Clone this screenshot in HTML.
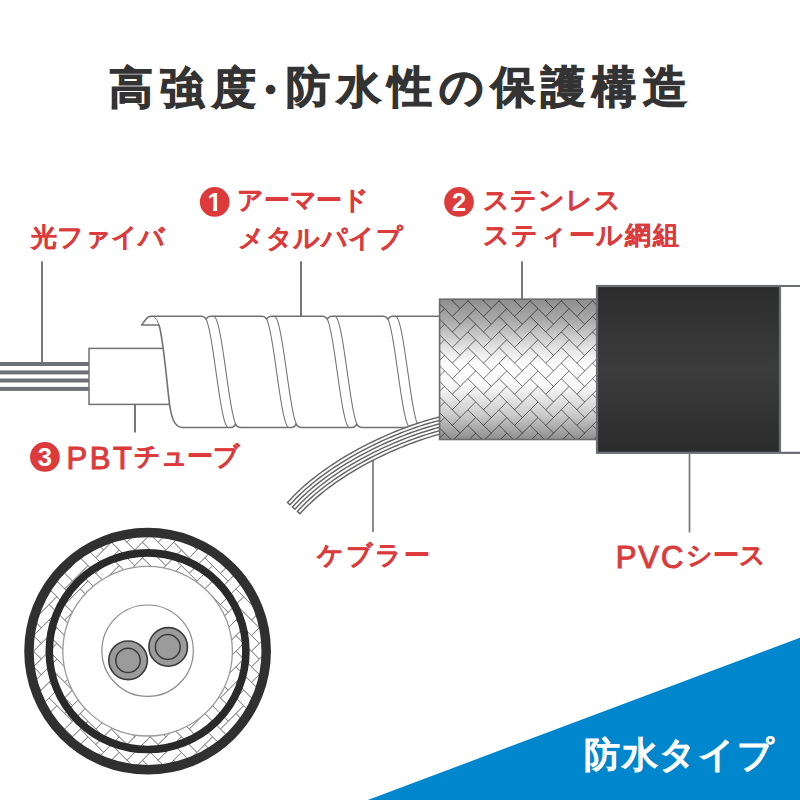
<!DOCTYPE html>
<html lang="ja"><head><meta charset="utf-8"><title>高強度・防水性の保護構造</title>
<style>
html,body{margin:0;padding:0;background:#fff;}
body{width:800px;height:800px;overflow:hidden;position:relative;font-family:"Liberation Sans",sans-serif;}
svg{position:absolute;left:0;top:0;}
.t{position:absolute;white-space:nowrap;font-weight:bold;line-height:1;}
.num{position:absolute;width:29.7px;height:29.7px;color:#fff;font-size:25.5px;font-weight:bold;text-align:center;line-height:30.5px;}
</style></head><body>
<svg width="800" height="800" viewBox="0 0 800 800">
<defs>
 <linearGradient id="braidg" x1="0" y1="0" x2="0" y2="1">
  <stop offset="0" stop-color="#8e8e8e"/><stop offset="0.15" stop-color="#aaaaaa"/><stop offset="0.35" stop-color="#e4e4e4"/><stop offset="0.47" stop-color="#ffffff"/><stop offset="0.62" stop-color="#f8f8f8"/><stop offset="0.82" stop-color="#cccccc"/><stop offset="1" stop-color="#8e8e8e"/>
 </linearGradient>
 <linearGradient id="pvcg" x1="0" y1="0" x2="0" y2="1">
  <stop offset="0" stop-color="#2c2c2c"/><stop offset="0.5" stop-color="#3c3c3c"/><stop offset="1" stop-color="#2c2c2c"/>
 </linearGradient>
 <clipPath id="cbraid"><rect x="439.6" y="299.2" width="158" height="140.3"/></clipPath>
 <clipPath id="cring"><path clip-rule="evenodd" d="M147.6,537.2 a114,114 0 1,0 0.01,0 Z M147.6,566.4 a84.8,84.8 0 1,0 0.01,0 Z"/></clipPath>
</defs>
<g fill="#6d7079">
 <rect x="0" y="362" width="90" height="4"/><rect x="0" y="370.4" width="90" height="4"/>
 <rect x="0" y="378.5" width="90" height="4"/><rect x="0" y="386.9" width="90" height="4"/>
</g>
<path d="M42,261.3V363 M301,261.3V316 M522,261.3V299 M135,404.5V432.5 " stroke="#717171" stroke-width="1.9" fill="none"/>
<path d="M373,461V532 M689.5,453V532.5" stroke="#787878" stroke-width="1.7" fill="none"/>
<rect x="89" y="348.4" width="90" height="56" fill="#fff" stroke="#717171" stroke-width="1.5"/>
<path d="M141.6,325 L159,325 C163.5,340 166.5,380 169.5,404 C171.5,418 174.5,427.5 182.5,427.5 L230.6,427.5 Q234.1,427.5 235.6,424 Q237.1,427.5 241.1,427.5 L291.2,427.5 Q294.7,427.5 296.2,424 Q297.7,427.5 301.7,427.5 L351.8,427.5 Q355.3,427.5 356.8,424 Q358.3,427.5 362.3,427.5 L412.4,427.5 Q415.9,427.5 417.4,424 Q418.9,427.5 422.9,427.5 L442,427.5 L442,316.3 L392.33,316.3 Q389.83,316.3 387.83,318.9 Q385.83,316.3 383.33,316.3 L331.73,316.3 Q329.23,316.3 327.23,318.9 Q325.23,316.3 322.73,316.3 L271.13,316.3 Q268.63,316.3 266.63,318.9 Q264.63,316.3 262.13,316.3 L210.53,316.3 Q208.03,316.3 206.03,318.9 Q204.03,316.3 201.53,316.3 L151,316.3 C148.5,316.3 147.2,317.3 145.6,319.6 L141.6,325.1 Z" fill="#fff" stroke="#717171" stroke-width="1.6" stroke-linejoin="round"/>
<path d="M154,316.8 Q157.6,319.6 159,325" stroke="#717171" stroke-width="0.9" fill="none"/>
<path d="M206.03,318.9 L206.49,319.98 L206.96,321.25 L207.43,322.69 L207.89,324.3 L208.36,326.08 L208.82,328.02 L209.29,330.11 L209.76,332.35 L210.22,334.73 L210.69,337.23 L211.16,339.86 L211.62,342.6 L212.09,345.44 L212.56,348.37 L213.02,351.38 L213.49,354.47 L213.96,357.61 L214.42,360.81 L214.89,364.04 L215.36,367.31 L215.82,370.59 L216.29,373.87 L216.76,377.14 L217.22,380.4 L217.69,383.63 L218.16,386.82 L218.62,389.95 L219.09,393.02 L219.55,396.02 L220.02,398.94 L220.49,401.76 L220.95,404.47 L221.42,407.08 L221.89,409.56 L222.35,411.9 L222.82,414.11 L223.29,416.18 L223.75,418.08 L224.22,419.83 L224.69,421.41 L225.15,422.82 L225.62,424.05 L226.09,425.09 L226.55,425.96 L227.02,426.63 L227.49,427.11 L227.95,427.4 L228.42,427.5M213.6,316.3 L214.06,316.39 L214.52,316.67 L214.98,317.14 L215.43,317.79 L215.89,318.62 L216.35,319.63 L216.81,320.82 L217.27,322.18 L217.73,323.71 L218.18,325.4 L218.64,327.24 L219.1,329.24 L219.56,331.38 L220.02,333.65 L220.48,336.06 L220.93,338.58 L221.39,341.22 L221.85,343.96 L222.31,346.8 L222.77,349.72 L223.23,352.71 L223.68,355.77 L224.14,358.88 L224.6,362.04 L225.06,365.23 L225.52,368.44 L225.98,371.66 L226.43,374.89 L226.89,378.1 L227.35,381.29 L227.81,384.45 L228.27,387.57 L228.73,390.64 L229.18,393.65 L229.64,396.58 L230.1,399.42 L230.56,402.18 L231.02,404.83 L231.48,407.37 L231.93,409.8 L232.39,412.09 L232.85,414.25 L233.31,416.27 L233.77,418.14 L234.23,419.85 L234.68,421.4 L235.14,422.79 L235.6,424M266.63,318.9 L267.09,319.98 L267.56,321.25 L268.03,322.69 L268.49,324.3 L268.96,326.08 L269.42,328.02 L269.89,330.11 L270.36,332.35 L270.82,334.73 L271.29,337.23 L271.76,339.86 L272.22,342.6 L272.69,345.44 L273.16,348.37 L273.62,351.38 L274.09,354.47 L274.56,357.61 L275.02,360.81 L275.49,364.04 L275.96,367.31 L276.42,370.59 L276.89,373.87 L277.36,377.14 L277.82,380.4 L278.29,383.63 L278.76,386.82 L279.22,389.95 L279.69,393.02 L280.15,396.02 L280.62,398.94 L281.09,401.76 L281.55,404.47 L282.02,407.08 L282.49,409.56 L282.95,411.9 L283.42,414.11 L283.89,416.18 L284.35,418.08 L284.82,419.83 L285.29,421.41 L285.75,422.82 L286.22,424.05 L286.69,425.09 L287.15,425.96 L287.62,426.63 L288.09,427.11 L288.55,427.4 L289.02,427.5M274.2,316.3 L274.66,316.39 L275.12,316.67 L275.58,317.14 L276.03,317.79 L276.49,318.62 L276.95,319.63 L277.41,320.82 L277.87,322.18 L278.33,323.71 L278.78,325.4 L279.24,327.24 L279.7,329.24 L280.16,331.38 L280.62,333.65 L281.08,336.06 L281.53,338.58 L281.99,341.22 L282.45,343.96 L282.91,346.8 L283.37,349.72 L283.83,352.71 L284.28,355.77 L284.74,358.88 L285.2,362.04 L285.66,365.23 L286.12,368.44 L286.58,371.66 L287.03,374.89 L287.49,378.1 L287.95,381.29 L288.41,384.45 L288.87,387.57 L289.33,390.64 L289.78,393.65 L290.24,396.58 L290.7,399.42 L291.16,402.18 L291.62,404.83 L292.08,407.37 L292.53,409.8 L292.99,412.09 L293.45,414.25 L293.91,416.27 L294.37,418.14 L294.83,419.85 L295.28,421.4 L295.74,422.79 L296.2,424M327.23,318.9 L327.69,319.98 L328.16,321.25 L328.63,322.69 L329.09,324.3 L329.56,326.08 L330.02,328.02 L330.49,330.11 L330.96,332.35 L331.42,334.73 L331.89,337.23 L332.36,339.86 L332.82,342.6 L333.29,345.44 L333.76,348.37 L334.22,351.38 L334.69,354.47 L335.16,357.61 L335.62,360.81 L336.09,364.04 L336.56,367.31 L337.02,370.59 L337.49,373.87 L337.96,377.14 L338.42,380.4 L338.89,383.63 L339.36,386.82 L339.82,389.95 L340.29,393.02 L340.75,396.02 L341.22,398.94 L341.69,401.76 L342.15,404.47 L342.62,407.08 L343.09,409.56 L343.55,411.9 L344.02,414.11 L344.49,416.18 L344.95,418.08 L345.42,419.83 L345.89,421.41 L346.35,422.82 L346.82,424.05 L347.29,425.09 L347.75,425.96 L348.22,426.63 L348.69,427.11 L349.15,427.4 L349.62,427.5M334.8,316.3 L335.26,316.39 L335.72,316.67 L336.18,317.14 L336.63,317.79 L337.09,318.62 L337.55,319.63 L338.01,320.82 L338.47,322.18 L338.93,323.71 L339.38,325.4 L339.84,327.24 L340.3,329.24 L340.76,331.38 L341.22,333.65 L341.68,336.06 L342.13,338.58 L342.59,341.22 L343.05,343.96 L343.51,346.8 L343.97,349.72 L344.43,352.71 L344.88,355.77 L345.34,358.88 L345.8,362.04 L346.26,365.23 L346.72,368.44 L347.18,371.66 L347.63,374.89 L348.09,378.1 L348.55,381.29 L349.01,384.45 L349.47,387.57 L349.93,390.64 L350.38,393.65 L350.84,396.58 L351.3,399.42 L351.76,402.18 L352.22,404.83 L352.68,407.37 L353.13,409.8 L353.59,412.09 L354.05,414.25 L354.51,416.27 L354.97,418.14 L355.43,419.85 L355.88,421.4 L356.34,422.79 L356.8,424M387.83,318.9 L388.29,319.98 L388.76,321.25 L389.23,322.69 L389.69,324.3 L390.16,326.08 L390.62,328.02 L391.09,330.11 L391.56,332.35 L392.02,334.73 L392.49,337.23 L392.96,339.86 L393.42,342.6 L393.89,345.44 L394.36,348.37 L394.82,351.38 L395.29,354.47 L395.76,357.61 L396.22,360.81 L396.69,364.04 L397.16,367.31 L397.62,370.59 L398.09,373.87 L398.56,377.14 L399.02,380.4 L399.49,383.63 L399.96,386.82 L400.42,389.95 L400.89,393.02 L401.35,396.02 L401.82,398.94 L402.29,401.76 L402.75,404.47 L403.22,407.08 L403.69,409.56 L404.15,411.9 L404.62,414.11 L405.09,416.18 L405.55,418.08 L406.02,419.83 L406.49,421.41 L406.95,422.82 L407.42,424.05 L407.89,425.09 L408.35,425.96 L408.82,426.63 L409.29,427.11 L409.75,427.4 L410.22,427.5M395.4,316.3 L395.86,316.39 L396.32,316.67 L396.78,317.14 L397.23,317.79 L397.69,318.62 L398.15,319.63 L398.61,320.82 L399.07,322.18 L399.53,323.71 L399.98,325.4 L400.44,327.24 L400.9,329.24 L401.36,331.38 L401.82,333.65 L402.28,336.06 L402.73,338.58 L403.19,341.22 L403.65,343.96 L404.11,346.8 L404.57,349.72 L405.03,352.71 L405.48,355.77 L405.94,358.88 L406.4,362.04 L406.86,365.23 L407.32,368.44 L407.78,371.66 L408.23,374.89 L408.69,378.1 L409.15,381.29 L409.61,384.45 L410.07,387.57 L410.53,390.64 L410.98,393.65 L411.44,396.58 L411.9,399.42 L412.36,402.18 L412.82,404.83 L413.28,407.37 L413.73,409.8 L414.19,412.09 L414.65,414.25 L415.11,416.27 L415.57,418.14 L416.03,419.85 L416.48,421.4 L416.94,422.79 L417.4,424" stroke="#727272" stroke-width="1.05" fill="none"/>
<path d="M445.87,414.91 L443.79,415.36 L441.65,415.84 L439.46,416.36 L437.22,416.92 L434.93,417.51 L432.59,418.14 L430.2,418.81 L427.77,419.51 L425.3,420.25 L422.79,421.02 L420.25,421.84 L417.66,422.68 L415.04,423.56 L412.39,424.48 L409.71,425.44 L407,426.42 L404.26,427.45 L401.5,428.5 L398.71,429.6 L395.9,430.72 L393.08,431.88 L390.23,433.08 L387.37,434.31 L384.49,435.57 L381.6,436.86 L378.71,438.19 L375.8,439.55 L372.88,440.95 L369.96,442.38 L367.04,443.84 L364.12,445.33 L361.19,446.86 L358.27,448.42 L355.36,450.01 L352.45,451.63 L349.54,453.28 L346.65,454.97 L343.77,456.69 L340.9,458.44 L338.05,460.21 L335.21,462.03 L332.4,463.87 L329.6,465.74 L326.83,467.64 L324.08,469.57 L321.36,471.54 L318.67,473.53 L316,475.55 L313.37,477.61 L310.77,479.69 L308.21,481.8 L305.68,483.94 L303.2,486.11 L300.75,488.31 L298.35,490.54 L296,492.79 L293.68,495.08 L291.42,497.39 L289.21,499.73 L287.06,502.1 L300.32,514.19 L302.37,511.94 L304.37,509.83 L306.41,507.73 L308.51,505.66 L310.66,503.6 L312.86,501.56 L315.1,499.54 L317.39,497.55 L319.72,495.57 L322.09,493.62 L324.5,491.69 L326.95,489.78 L329.43,487.89 L331.95,486.03 L334.49,484.2 L337.07,482.38 L339.67,480.6 L342.3,478.84 L344.96,477.1 L347.63,475.39 L350.33,473.71 L353.04,472.06 L355.77,470.43 L358.51,468.84 L361.26,467.27 L364.02,465.73 L366.8,464.22 L369.57,462.73 L372.35,461.28 L375.14,459.86 L377.92,458.47 L380.7,457.11 L383.48,455.78 L386.25,454.48 L389.02,453.21 L391.77,451.97 L394.52,450.77 L397.24,449.6 L399.96,448.46 L402.65,447.35 L405.33,446.28 L407.98,445.24 L410.61,444.24 L413.21,443.26 L415.79,442.33 L418.33,441.42 L420.85,440.55 L423.32,439.72 L425.76,438.92 L428.17,438.15 L430.53,437.42 L432.85,436.73 L435.12,436.07 L437.34,435.45 L439.51,434.86 L441.63,434.32 L443.7,433.8 L445.7,433.33 L447.64,432.89 L449.62,432.47Z" fill="#fff"/>
<path d="M446,415.5 L443.92,415.94 L441.79,416.42 L439.6,416.94 L437.37,417.5 L435.08,418.09 L432.75,418.72 L430.37,419.38 L427.94,420.09 L425.48,420.82 L422.97,421.6 L420.43,422.41 L417.85,423.25 L415.24,424.13 L412.59,425.05 L409.91,426 L407.21,426.99 L404.47,428.01 L401.72,429.06 L398.93,430.15 L396.13,431.28 L393.31,432.44 L390.46,433.63 L387.61,434.86 L384.74,436.12 L381.85,437.41 L378.96,438.74 L376.05,440.1 L373.15,441.49 L370.23,442.92 L367.31,444.38 L364.39,445.87 L361.47,447.39 L358.56,448.95 L355.65,450.53 L352.74,452.15 L349.84,453.8 L346.96,455.49 L344.08,457.2 L341.22,458.95 L338.37,460.72 L335.54,462.53 L332.73,464.37 L329.94,466.24 L327.17,468.13 L324.43,470.06 L321.71,472.02 L319.03,474.01 L316.37,476.03 L313.74,478.08 L311.15,480.15 L308.59,482.26 L306.08,484.39 L303.6,486.56 L301.16,488.75 L298.76,490.97 L296.41,493.22 L294.11,495.5 L291.86,497.81 L289.65,500.14 L287.5,502.5 L289.98,504.76 L292.11,502.42 L294.27,500.13 L296.49,497.86 L298.75,495.62 L301.06,493.41 L303.42,491.22 L305.82,489.07 L308.26,486.93 L310.74,484.83 L313.26,482.75 L315.82,480.7 L318.41,478.68 L321.03,476.69 L323.69,474.73 L326.37,472.79 L329.08,470.89 L331.82,469.01 L334.58,467.16 L337.36,465.34 L340.16,463.56 L342.98,461.8 L345.81,460.07 L348.66,458.37 L351.52,456.71 L354.39,455.07 L357.26,453.47 L360.15,451.89 L363.04,450.35 L365.93,448.84 L368.82,447.36 L371.72,445.92 L374.6,444.51 L377.49,443.12 L380.37,441.78 L383.24,440.46 L386.09,439.18 L388.94,437.93 L391.77,436.71 L394.59,435.53 L397.39,434.38 L400.17,433.27 L402.93,432.19 L405.66,431.14 L408.37,430.13 L411.05,429.15 L413.7,428.21 L416.32,427.3 L418.91,426.43 L421.46,425.59 L423.98,424.79 L426.45,424.03 L428.89,423.3 L431.28,422.61 L433.63,421.95 L435.94,421.33 L438.19,420.75 L440.39,420.2 L442.54,419.69 L444.64,419.22 L446.7,418.78ZM447.4,422.05 L445.36,422.49 L443.3,422.95 L441.18,423.45 L439.01,423.99 L436.79,424.57 L434.52,425.18 L432.2,425.83 L429.84,426.51 L427.43,427.23 L424.98,427.99 L422.49,428.78 L419.97,429.61 L417.4,430.47 L414.81,431.37 L412.18,432.3 L409.53,433.27 L406.84,434.27 L404.14,435.31 L401.4,436.38 L398.65,437.49 L395.87,438.62 L393.08,439.8 L390.28,441 L387.45,442.24 L384.62,443.51 L381.78,444.82 L378.92,446.15 L376.06,447.52 L373.2,448.92 L370.33,450.35 L367.47,451.82 L364.6,453.32 L361.74,454.84 L358.88,456.4 L356.03,457.99 L353.19,459.61 L350.36,461.26 L347.54,462.94 L344.73,464.65 L341.95,466.39 L339.18,468.16 L336.43,469.95 L333.7,471.78 L330.99,473.64 L328.32,475.52 L325.67,477.43 L323.04,479.37 L320.45,481.34 L317.9,483.33 L315.38,485.35 L312.89,487.4 L310.45,489.47 L308.04,491.57 L305.68,493.7 L303.36,495.85 L301.09,498.02 L298.86,500.22 L296.69,502.45 L294.56,504.7 L292.45,507.01 L294.93,509.27 L297.02,506.97 L299.1,504.77 L301.24,502.59 L303.42,500.42 L305.66,498.29 L307.94,496.17 L310.26,494.08 L312.63,492.01 L315.04,489.97 L317.49,487.95 L319.98,485.96 L322.5,483.99 L325.05,482.05 L327.64,480.14 L330.26,478.25 L332.91,476.39 L335.58,474.55 L338.28,472.75 L340.99,470.97 L343.73,469.22 L346.49,467.5 L349.27,465.81 L352.06,464.15 L354.86,462.51 L357.68,460.91 L360.5,459.33 L363.33,457.79 L366.17,456.28 L369.01,454.8 L371.85,453.34 L374.69,451.92 L377.52,450.54 L380.36,449.18 L383.18,447.85 L386,446.56 L388.81,445.3 L391.61,444.07 L394.39,442.88 L397.16,441.72 L399.91,440.59 L402.64,439.5 L405.35,438.43 L408.03,437.41 L410.69,436.41 L413.32,435.46 L415.92,434.53 L418.49,433.64 L421.02,432.79 L423.52,431.97 L425.98,431.19 L428.4,430.44 L430.78,429.73 L433.12,429.05 L435.41,428.41 L437.65,427.81 L439.84,427.24 L441.97,426.71 L444.05,426.22 L446.08,425.76 L448.1,425.33ZM448.8,428.6 L446.8,429.03 L444.81,429.48 L442.76,429.96 L440.66,430.49 L438.5,431.05 L436.29,431.64 L434.04,432.27 L431.73,432.94 L429.38,433.64 L426.98,434.38 L424.55,435.16 L422.08,435.97 L419.57,436.81 L417.03,437.69 L414.45,438.61 L411.85,439.56 L409.21,440.54 L406.55,441.56 L403.87,442.61 L401.17,443.69 L398.44,444.81 L395.7,445.96 L392.94,447.15 L390.17,448.36 L387.39,449.61 L384.59,450.89 L381.79,452.21 L378.98,453.55 L376.17,454.93 L373.36,456.33 L370.54,457.77 L367.73,459.24 L364.92,460.74 L362.12,462.27 L359.32,463.83 L356.53,465.41 L353.76,467.03 L351,468.68 L348.25,470.35 L345.52,472.05 L342.81,473.78 L340.12,475.54 L337.46,477.33 L334.82,479.14 L332.2,480.98 L329.62,482.84 L327.06,484.73 L324.54,486.65 L322.05,488.59 L319.6,490.55 L317.19,492.54 L314.81,494.55 L312.48,496.59 L310.2,498.65 L307.95,500.72 L305.76,502.83 L303.61,504.95 L301.52,507.09 L299.47,509.25 L297.4,511.53 L299.88,513.78 L301.93,511.53 L303.93,509.41 L305.99,507.31 L308.09,505.23 L310.25,503.16 L312.45,501.12 L314.7,499.1 L317,497.09 L319.34,495.11 L321.71,493.15 L324.13,491.22 L326.58,489.3 L329.07,487.41 L331.59,485.55 L334.15,483.71 L336.73,481.89 L339.34,480.1 L341.97,478.34 L344.63,476.6 L347.31,474.89 L350.01,473.2 L352.73,471.55 L355.46,469.92 L358.21,468.32 L360.97,466.74 L363.73,465.2 L366.51,463.69 L369.29,462.2 L372.08,460.75 L374.87,459.32 L377.66,457.93 L380.44,456.57 L383.23,455.23 L386,453.93 L388.77,452.66 L391.53,451.43 L394.28,450.22 L397.01,449.05 L399.73,447.91 L402.43,446.8 L405.11,445.72 L407.76,444.68 L410.4,443.67 L413.01,442.7 L415.59,441.76 L418.14,440.85 L420.65,439.98 L423.13,439.15 L425.58,438.35 L427.99,437.58 L430.35,436.85 L432.68,436.15 L434.95,435.49 L437.18,434.87 L439.36,434.28 L441.48,433.73 L443.55,433.22 L445.57,432.74 L447.51,432.3 L449.5,431.88Z" stroke="#656565" stroke-width="1.45" fill="#fff"/>
<rect x="439.6" y="299.2" width="158" height="140.3" fill="url(#braidg)"/>
<path clip-path="url(#cbraid)" d="M421.2,300.8L429,308.6M421.2,300.8L436.8,285.2M421.2,316.4L429,324.2M421.2,316.4L436.8,300.8M421.2,331.9L429,339.7M421.2,331.9L436.8,316.4M421.2,347.5L429,355.3M421.2,347.5L436.8,331.9M421.2,363.1L429,370.9M421.2,363.1L436.8,347.5M421.2,378.7L429,386.4M421.2,378.7L436.8,363.1M421.2,394.2L429,402M421.2,394.2L436.8,378.7M421.2,409.8L429,417.6M421.2,409.8L436.8,394.2M421.2,425.4L429,433.1M421.2,425.4L436.8,409.8M421.2,440.9L429,448.7M421.2,440.9L436.8,425.4M421.2,456.5L429,464.3M421.2,456.5L436.8,440.9M429,308.6L444.6,293M429,324.2L444.6,308.6M429,339.7L444.6,324.2M429,355.3L444.6,339.7M429,370.9L444.6,355.3M429,386.4L444.6,370.9M429,402L444.6,386.4M429,417.6L444.6,402M429,433.1L444.6,417.6M429,448.7L444.6,433.1M429,464.3L444.6,448.7M436.8,285.2L444.6,277.4M436.8,285.2L444.6,293M436.8,285.2L452.3,300.8M436.8,300.8L444.6,293M436.8,300.8L444.6,308.6M436.8,300.8L452.3,316.4M436.8,316.4L444.6,308.6M436.8,316.4L444.6,324.2M436.8,316.4L452.3,331.9M436.8,331.9L444.6,324.2M436.8,331.9L444.6,339.7M436.8,331.9L452.3,347.5M436.8,347.5L444.6,339.7M436.8,347.5L444.6,355.3M436.8,347.5L452.3,363.1M436.8,363.1L444.6,355.3M436.8,363.1L444.6,370.9M436.8,363.1L452.3,378.7M436.8,378.7L444.6,370.9M436.8,378.7L444.6,386.4M436.8,378.7L452.3,394.2M436.8,394.2L444.6,386.4M436.8,394.2L444.6,402M436.8,394.2L452.3,409.8M436.8,409.8L444.6,402M436.8,409.8L444.6,417.6M436.8,409.8L452.3,425.4M436.8,425.4L444.6,417.6M436.8,425.4L444.6,433.1M436.8,425.4L452.3,440.9M436.8,440.9L444.6,433.1M436.8,440.9L444.6,448.7M436.8,440.9L452.3,456.5M444.6,277.4L460.1,293M444.6,293L460.1,308.6M444.6,308.6L460.1,324.2M444.6,324.2L460.1,339.7M444.6,339.7L460.1,355.3M444.6,355.3L460.1,370.9M444.6,370.9L460.1,386.4M444.6,386.4L460.1,402M444.6,402L460.1,417.6M444.6,417.6L460.1,433.1M444.6,433.1L460.1,448.7M452.3,300.8L460.1,293M452.3,300.8L460.1,308.6M452.3,300.8L467.9,285.2M452.3,316.4L460.1,308.6M452.3,316.4L460.1,324.2M452.3,316.4L467.9,300.8M452.3,331.9L460.1,324.2M452.3,331.9L460.1,339.7M452.3,331.9L467.9,316.4M452.3,347.5L460.1,339.7M452.3,347.5L460.1,355.3M452.3,347.5L467.9,331.9M452.3,363.1L460.1,355.3M452.3,363.1L460.1,370.9M452.3,363.1L467.9,347.5M452.3,378.7L460.1,370.9M452.3,378.7L460.1,386.4M452.3,378.7L467.9,363.1M452.3,394.2L460.1,386.4M452.3,394.2L460.1,402M452.3,394.2L467.9,378.7M452.3,409.8L460.1,402M452.3,409.8L460.1,417.6M452.3,409.8L467.9,394.2M452.3,425.4L460.1,417.6M452.3,425.4L460.1,433.1M452.3,425.4L467.9,409.8M452.3,440.9L460.1,433.1M452.3,440.9L460.1,448.7M452.3,440.9L467.9,425.4M452.3,456.5L460.1,448.7M452.3,456.5L460.1,464.3M452.3,456.5L467.9,440.9M460.1,308.6L475.7,293M460.1,324.2L475.7,308.6M460.1,339.7L475.7,324.2M460.1,355.3L475.7,339.7M460.1,370.9L475.7,355.3M460.1,386.4L475.7,370.9M460.1,402L475.7,386.4M460.1,417.6L475.7,402M460.1,433.1L475.7,417.6M460.1,448.7L475.7,433.1M460.1,464.3L475.7,448.7M467.9,285.2L475.7,277.4M467.9,285.2L475.7,293M467.9,285.2L483.5,300.8M467.9,300.8L475.7,293M467.9,300.8L475.7,308.6M467.9,300.8L483.5,316.4M467.9,316.4L475.7,308.6M467.9,316.4L475.7,324.2M467.9,316.4L483.5,331.9M467.9,331.9L475.7,324.2M467.9,331.9L475.7,339.7M467.9,331.9L483.5,347.5M467.9,347.5L475.7,339.7M467.9,347.5L475.7,355.3M467.9,347.5L483.5,363.1M467.9,363.1L475.7,355.3M467.9,363.1L475.7,370.9M467.9,363.1L483.5,378.7M467.9,378.7L475.7,370.9M467.9,378.7L475.7,386.4M467.9,378.7L483.5,394.2M467.9,394.2L475.7,386.4M467.9,394.2L475.7,402M467.9,394.2L483.5,409.8M467.9,409.8L475.7,402M467.9,409.8L475.7,417.6M467.9,409.8L483.5,425.4M467.9,425.4L475.7,417.6M467.9,425.4L475.7,433.1M467.9,425.4L483.5,440.9M467.9,440.9L475.7,433.1M467.9,440.9L475.7,448.7M467.9,440.9L483.5,456.5M475.7,277.4L491.3,293M475.7,293L491.3,308.6M475.7,308.6L491.3,324.2M475.7,324.2L491.3,339.7M475.7,339.7L491.3,355.3M475.7,355.3L491.3,370.9M475.7,370.9L491.3,386.4M475.7,386.4L491.3,402M475.7,402L491.3,417.6M475.7,417.6L491.3,433.1M475.7,433.1L491.3,448.7M483.5,300.8L491.3,293M483.5,300.8L491.3,308.6M483.5,300.8L499.1,285.2M483.5,316.4L491.3,308.6M483.5,316.4L491.3,324.2M483.5,316.4L499.1,300.8M483.5,331.9L491.3,324.2M483.5,331.9L491.3,339.7M483.5,331.9L499.1,316.4M483.5,347.5L491.3,339.7M483.5,347.5L491.3,355.3M483.5,347.5L499.1,331.9M483.5,363.1L491.3,355.3M483.5,363.1L491.3,370.9M483.5,363.1L499.1,347.5M483.5,378.7L491.3,370.9M483.5,378.7L491.3,386.4M483.5,378.7L499.1,363.1M483.5,394.2L491.3,386.4M483.5,394.2L491.3,402M483.5,394.2L499.1,378.7M483.5,409.8L491.3,402M483.5,409.8L491.3,417.6M483.5,409.8L499.1,394.2M483.5,425.4L491.3,417.6M483.5,425.4L491.3,433.1M483.5,425.4L499.1,409.8M483.5,440.9L491.3,433.1M483.5,440.9L491.3,448.7M483.5,440.9L499.1,425.4M483.5,456.5L491.3,448.7M483.5,456.5L491.3,464.3M483.5,456.5L499.1,440.9M491.3,308.6L506.8,293M491.3,324.2L506.8,308.6M491.3,339.7L506.8,324.2M491.3,355.3L506.8,339.7M491.3,370.9L506.8,355.3M491.3,386.4L506.8,370.9M491.3,402L506.8,386.4M491.3,417.6L506.8,402M491.3,433.1L506.8,417.6M491.3,448.7L506.8,433.1M491.3,464.3L506.8,448.7M499.1,285.2L506.8,277.4M499.1,285.2L506.8,293M499.1,285.2L514.6,300.8M499.1,300.8L506.8,293M499.1,300.8L506.8,308.6M499.1,300.8L514.6,316.4M499.1,316.4L506.8,308.6M499.1,316.4L506.8,324.2M499.1,316.4L514.6,331.9M499.1,331.9L506.8,324.2M499.1,331.9L506.8,339.7M499.1,331.9L514.6,347.5M499.1,347.5L506.8,339.7M499.1,347.5L506.8,355.3M499.1,347.5L514.6,363.1M499.1,363.1L506.8,355.3M499.1,363.1L506.8,370.9M499.1,363.1L514.6,378.7M499.1,378.7L506.8,370.9M499.1,378.7L506.8,386.4M499.1,378.7L514.6,394.2M499.1,394.2L506.8,386.4M499.1,394.2L506.8,402M499.1,394.2L514.6,409.8M499.1,409.8L506.8,402M499.1,409.8L506.8,417.6M499.1,409.8L514.6,425.4M499.1,425.4L506.8,417.6M499.1,425.4L506.8,433.1M499.1,425.4L514.6,440.9M499.1,440.9L506.8,433.1M499.1,440.9L506.8,448.7M499.1,440.9L514.6,456.5M506.8,277.4L522.4,293M506.8,293L522.4,308.6M506.8,308.6L522.4,324.2M506.8,324.2L522.4,339.7M506.8,339.7L522.4,355.3M506.8,355.3L522.4,370.9M506.8,370.9L522.4,386.4M506.8,386.4L522.4,402M506.8,402L522.4,417.6M506.8,417.6L522.4,433.1M506.8,433.1L522.4,448.7M514.6,300.8L522.4,293M514.6,300.8L522.4,308.6M514.6,300.8L530.2,285.2M514.6,316.4L522.4,308.6M514.6,316.4L522.4,324.2M514.6,316.4L530.2,300.8M514.6,331.9L522.4,324.2M514.6,331.9L522.4,339.7M514.6,331.9L530.2,316.4M514.6,347.5L522.4,339.7M514.6,347.5L522.4,355.3M514.6,347.5L530.2,331.9M514.6,363.1L522.4,355.3M514.6,363.1L522.4,370.9M514.6,363.1L530.2,347.5M514.6,378.7L522.4,370.9M514.6,378.7L522.4,386.4M514.6,378.7L530.2,363.1M514.6,394.2L522.4,386.4M514.6,394.2L522.4,402M514.6,394.2L530.2,378.7M514.6,409.8L522.4,402M514.6,409.8L522.4,417.6M514.6,409.8L530.2,394.2M514.6,425.4L522.4,417.6M514.6,425.4L522.4,433.1M514.6,425.4L530.2,409.8M514.6,440.9L522.4,433.1M514.6,440.9L522.4,448.7M514.6,440.9L530.2,425.4M514.6,456.5L522.4,448.7M514.6,456.5L522.4,464.3M514.6,456.5L530.2,440.9M522.4,308.6L538,293M522.4,324.2L538,308.6M522.4,339.7L538,324.2M522.4,355.3L538,339.7M522.4,370.9L538,355.3M522.4,386.4L538,370.9M522.4,402L538,386.4M522.4,417.6L538,402M522.4,433.1L538,417.6M522.4,448.7L538,433.1M522.4,464.3L538,448.7M530.2,285.2L538,277.4M530.2,285.2L538,293M530.2,285.2L545.8,300.8M530.2,300.8L538,293M530.2,300.8L538,308.6M530.2,300.8L545.8,316.4M530.2,316.4L538,308.6M530.2,316.4L538,324.2M530.2,316.4L545.8,331.9M530.2,331.9L538,324.2M530.2,331.9L538,339.7M530.2,331.9L545.8,347.5M530.2,347.5L538,339.7M530.2,347.5L538,355.3M530.2,347.5L545.8,363.1M530.2,363.1L538,355.3M530.2,363.1L538,370.9M530.2,363.1L545.8,378.7M530.2,378.7L538,370.9M530.2,378.7L538,386.4M530.2,378.7L545.8,394.2M530.2,394.2L538,386.4M530.2,394.2L538,402M530.2,394.2L545.8,409.8M530.2,409.8L538,402M530.2,409.8L538,417.6M530.2,409.8L545.8,425.4M530.2,425.4L538,417.6M530.2,425.4L538,433.1M530.2,425.4L545.8,440.9M530.2,440.9L538,433.1M530.2,440.9L538,448.7M530.2,440.9L545.8,456.5M538,277.4L553.5,293M538,293L553.5,308.6M538,308.6L553.5,324.2M538,324.2L553.5,339.7M538,339.7L553.5,355.3M538,355.3L553.5,370.9M538,370.9L553.5,386.4M538,386.4L553.5,402M538,402L553.5,417.6M538,417.6L553.5,433.1M538,433.1L553.5,448.7M545.8,300.8L553.5,293M545.8,300.8L553.5,308.6M545.8,300.8L561.3,285.2M545.8,316.4L553.5,308.6M545.8,316.4L553.5,324.2M545.8,316.4L561.3,300.8M545.8,331.9L553.5,324.2M545.8,331.9L553.5,339.7M545.8,331.9L561.3,316.4M545.8,347.5L553.5,339.7M545.8,347.5L553.5,355.3M545.8,347.5L561.3,331.9M545.8,363.1L553.5,355.3M545.8,363.1L553.5,370.9M545.8,363.1L561.3,347.5M545.8,378.7L553.5,370.9M545.8,378.7L553.5,386.4M545.8,378.7L561.3,363.1M545.8,394.2L553.5,386.4M545.8,394.2L553.5,402M545.8,394.2L561.3,378.7M545.8,409.8L553.5,402M545.8,409.8L553.5,417.6M545.8,409.8L561.3,394.2M545.8,425.4L553.5,417.6M545.8,425.4L553.5,433.1M545.8,425.4L561.3,409.8M545.8,440.9L553.5,433.1M545.8,440.9L553.5,448.7M545.8,440.9L561.3,425.4M545.8,456.5L553.5,448.7M545.8,456.5L553.5,464.3M545.8,456.5L561.3,440.9M553.5,308.6L569.1,293M553.5,324.2L569.1,308.6M553.5,339.7L569.1,324.2M553.5,355.3L569.1,339.7M553.5,370.9L569.1,355.3M553.5,386.4L569.1,370.9M553.5,402L569.1,386.4M553.5,417.6L569.1,402M553.5,433.1L569.1,417.6M553.5,448.7L569.1,433.1M553.5,464.3L569.1,448.7M561.3,285.2L569.1,277.4M561.3,285.2L569.1,293M561.3,285.2L576.9,300.8M561.3,300.8L569.1,293M561.3,300.8L569.1,308.6M561.3,300.8L576.9,316.4M561.3,316.4L569.1,308.6M561.3,316.4L569.1,324.2M561.3,316.4L576.9,331.9M561.3,331.9L569.1,324.2M561.3,331.9L569.1,339.7M561.3,331.9L576.9,347.5M561.3,347.5L569.1,339.7M561.3,347.5L569.1,355.3M561.3,347.5L576.9,363.1M561.3,363.1L569.1,355.3M561.3,363.1L569.1,370.9M561.3,363.1L576.9,378.7M561.3,378.7L569.1,370.9M561.3,378.7L569.1,386.4M561.3,378.7L576.9,394.2M561.3,394.2L569.1,386.4M561.3,394.2L569.1,402M561.3,394.2L576.9,409.8M561.3,409.8L569.1,402M561.3,409.8L569.1,417.6M561.3,409.8L576.9,425.4M561.3,425.4L569.1,417.6M561.3,425.4L569.1,433.1M561.3,425.4L576.9,440.9M561.3,440.9L569.1,433.1M561.3,440.9L569.1,448.7M561.3,440.9L576.9,456.5M569.1,277.4L584.7,293M569.1,293L584.7,308.6M569.1,308.6L584.7,324.2M569.1,324.2L584.7,339.7M569.1,339.7L584.7,355.3M569.1,355.3L584.7,370.9M569.1,370.9L584.7,386.4M569.1,386.4L584.7,402M569.1,402L584.7,417.6M569.1,417.6L584.7,433.1M569.1,433.1L584.7,448.7M576.9,300.8L584.7,293M576.9,300.8L584.7,308.6M576.9,300.8L592.5,285.2M576.9,316.4L584.7,308.6M576.9,316.4L584.7,324.2M576.9,316.4L592.5,300.8M576.9,331.9L584.7,324.2M576.9,331.9L584.7,339.7M576.9,331.9L592.5,316.4M576.9,347.5L584.7,339.7M576.9,347.5L584.7,355.3M576.9,347.5L592.5,331.9M576.9,363.1L584.7,355.3M576.9,363.1L584.7,370.9M576.9,363.1L592.5,347.5M576.9,378.7L584.7,370.9M576.9,378.7L584.7,386.4M576.9,378.7L592.5,363.1M576.9,394.2L584.7,386.4M576.9,394.2L584.7,402M576.9,394.2L592.5,378.7M576.9,409.8L584.7,402M576.9,409.8L584.7,417.6M576.9,409.8L592.5,394.2M576.9,425.4L584.7,417.6M576.9,425.4L584.7,433.1M576.9,425.4L592.5,409.8M576.9,440.9L584.7,433.1M576.9,440.9L584.7,448.7M576.9,440.9L592.5,425.4M576.9,456.5L584.7,448.7M576.9,456.5L584.7,464.3M576.9,456.5L592.5,440.9M584.7,308.6L600.3,293M584.7,324.2L600.3,308.6M584.7,339.7L600.3,324.2M584.7,355.3L600.3,339.7M584.7,370.9L600.3,355.3M584.7,386.4L600.3,370.9M584.7,402L600.3,386.4M584.7,417.6L600.3,402M584.7,433.1L600.3,417.6M584.7,448.7L600.3,433.1M584.7,464.3L600.3,448.7M592.5,285.2L600.3,277.4M592.5,285.2L600.3,293M592.5,285.2L608,300.8M592.5,300.8L600.3,293M592.5,300.8L600.3,308.6M592.5,300.8L608,316.4M592.5,316.4L600.3,308.6M592.5,316.4L600.3,324.2M592.5,316.4L608,331.9M592.5,331.9L600.3,324.2M592.5,331.9L600.3,339.7M592.5,331.9L608,347.5M592.5,347.5L600.3,339.7M592.5,347.5L600.3,355.3M592.5,347.5L608,363.1M592.5,363.1L600.3,355.3M592.5,363.1L600.3,370.9M592.5,363.1L608,378.7M592.5,378.7L600.3,370.9M592.5,378.7L600.3,386.4M592.5,378.7L608,394.2M592.5,394.2L600.3,386.4M592.5,394.2L600.3,402M592.5,394.2L608,409.8M592.5,409.8L600.3,402M592.5,409.8L600.3,417.6M592.5,409.8L608,425.4M592.5,425.4L600.3,417.6M592.5,425.4L600.3,433.1M592.5,425.4L608,440.9M592.5,440.9L600.3,433.1M592.5,440.9L600.3,448.7M592.5,440.9L608,456.5M600.3,277.4L615.8,293M600.3,293L615.8,308.6M600.3,308.6L615.8,324.2M600.3,324.2L615.8,339.7M600.3,339.7L615.8,355.3M600.3,355.3L615.8,370.9M600.3,370.9L615.8,386.4M600.3,386.4L615.8,402M600.3,402L615.8,417.6M600.3,417.6L615.8,433.1M600.3,433.1L615.8,448.7M608,300.8L615.8,293M608,316.4L615.8,308.6M608,331.9L615.8,324.2M608,347.5L615.8,339.7M608,363.1L615.8,355.3M608,378.7L615.8,370.9M608,394.2L615.8,386.4M608,409.8L615.8,402M608,425.4L615.8,417.6M608,440.9L615.8,433.1M608,456.5L615.8,448.7" stroke="#000" stroke-opacity="0.34" stroke-width="0.9" fill="none"/>
<rect x="439.6" y="299.2" width="158" height="140.3" fill="none" stroke="#6d6d6d" stroke-width="1.6"/>
<rect x="597" y="286" width="183" height="166.8" fill="url(#pvcg)" stroke="#6b6e74" stroke-width="2.2"/>
<path d="M780,286H800 M780,452.8H800" stroke="#6b6e74" stroke-width="2.2"/>
<path clip-path="url(#cring)" d="M18,526.6L25.8,518.9M18,526.6L33.5,542.2M18,542.2L25.8,534.4M18,542.2L33.5,557.8M18,557.8L25.8,550M18,557.8L33.5,573.3M18,573.3L25.8,565.6M18,573.3L33.5,588.9M18,588.9L25.8,581.1M18,588.9L33.5,604.5M18,604.5L25.8,596.7M18,604.5L33.5,620.1M18,620.1L25.8,612.3M18,620.1L33.5,635.6M18,635.6L25.8,627.8M18,635.6L33.5,651.2M18,651.2L25.8,643.4M18,651.2L33.5,666.8M18,666.8L25.8,659M18,666.8L33.5,682.3M18,682.3L25.8,674.6M18,682.3L33.5,697.9M18,697.9L25.8,690.1M18,697.9L33.5,713.5M18,713.5L25.8,705.7M18,713.5L33.5,729.1M18,729.1L25.8,721.3M18,729.1L33.5,744.6M18,744.6L25.8,736.8M18,744.6L33.5,760.2M18,760.2L25.8,752.4M18,760.2L33.5,775.8M25.8,518.9L41.3,534.4M25.8,534.4L41.3,550M25.8,550L41.3,565.6M25.8,565.6L41.3,581.1M25.8,581.1L41.3,596.7M25.8,596.7L41.3,612.3M25.8,612.3L41.3,627.8M25.8,627.8L41.3,643.4M25.8,643.4L41.3,659M25.8,659L41.3,674.6M25.8,674.6L41.3,690.1M25.8,690.1L41.3,705.7M25.8,705.7L41.3,721.3M25.8,721.3L41.3,736.8M25.8,736.8L41.3,752.4M25.8,752.4L41.3,768M33.5,542.2L41.3,534.4M33.5,542.2L41.3,550M33.5,542.2L49.1,526.6M33.5,557.8L41.3,550M33.5,557.8L41.3,565.6M33.5,557.8L49.1,542.2M33.5,573.3L41.3,565.6M33.5,573.3L41.3,581.1M33.5,573.3L49.1,557.8M33.5,588.9L41.3,581.1M33.5,588.9L41.3,596.7M33.5,588.9L49.1,573.3M33.5,604.5L41.3,596.7M33.5,604.5L41.3,612.3M33.5,604.5L49.1,588.9M33.5,620.1L41.3,612.3M33.5,620.1L41.3,627.8M33.5,620.1L49.1,604.5M33.5,635.6L41.3,627.8M33.5,635.6L41.3,643.4M33.5,635.6L49.1,620.1M33.5,651.2L41.3,643.4M33.5,651.2L41.3,659M33.5,651.2L49.1,635.6M33.5,666.8L41.3,659M33.5,666.8L41.3,674.6M33.5,666.8L49.1,651.2M33.5,682.3L41.3,674.6M33.5,682.3L41.3,690.1M33.5,682.3L49.1,666.8M33.5,697.9L41.3,690.1M33.5,697.9L41.3,705.7M33.5,697.9L49.1,682.3M33.5,713.5L41.3,705.7M33.5,713.5L41.3,721.3M33.5,713.5L49.1,697.9M33.5,729.1L41.3,721.3M33.5,729.1L41.3,736.8M33.5,729.1L49.1,713.5M33.5,744.6L41.3,736.8M33.5,744.6L41.3,752.4M33.5,744.6L49.1,729.1M33.5,760.2L41.3,752.4M33.5,760.2L41.3,768M33.5,760.2L49.1,744.6M33.5,775.8L41.3,768M33.5,775.8L41.3,783.5M33.5,775.8L49.1,760.2M41.3,550L56.9,534.4M41.3,565.6L56.9,550M41.3,581.1L56.9,565.6M41.3,596.7L56.9,581.1M41.3,612.3L56.9,596.7M41.3,627.8L56.9,612.3M41.3,643.4L56.9,627.8M41.3,659L56.9,643.4M41.3,674.6L56.9,659M41.3,690.1L56.9,674.6M41.3,705.7L56.9,690.1M41.3,721.3L56.9,705.7M41.3,736.8L56.9,721.3M41.3,752.4L56.9,736.8M41.3,768L56.9,752.4M41.3,783.5L56.9,768M49.1,526.6L56.9,518.9M49.1,526.6L56.9,534.4M49.1,526.6L64.7,542.2M49.1,542.2L56.9,534.4M49.1,542.2L56.9,550M49.1,542.2L64.7,557.8M49.1,557.8L56.9,550M49.1,557.8L56.9,565.6M49.1,557.8L64.7,573.3M49.1,573.3L56.9,565.6M49.1,573.3L56.9,581.1M49.1,573.3L64.7,588.9M49.1,588.9L56.9,581.1M49.1,588.9L56.9,596.7M49.1,588.9L64.7,604.5M49.1,604.5L56.9,596.7M49.1,604.5L56.9,612.3M49.1,604.5L64.7,620.1M49.1,620.1L56.9,612.3M49.1,620.1L56.9,627.8M49.1,620.1L64.7,635.6M49.1,635.6L56.9,627.8M49.1,635.6L56.9,643.4M49.1,635.6L64.7,651.2M49.1,651.2L56.9,643.4M49.1,651.2L56.9,659M49.1,651.2L64.7,666.8M49.1,666.8L56.9,659M49.1,666.8L56.9,674.6M49.1,666.8L64.7,682.3M49.1,682.3L56.9,674.6M49.1,682.3L56.9,690.1M49.1,682.3L64.7,697.9M49.1,697.9L56.9,690.1M49.1,697.9L56.9,705.7M49.1,697.9L64.7,713.5M49.1,713.5L56.9,705.7M49.1,713.5L56.9,721.3M49.1,713.5L64.7,729.1M49.1,729.1L56.9,721.3M49.1,729.1L56.9,736.8M49.1,729.1L64.7,744.6M49.1,744.6L56.9,736.8M49.1,744.6L56.9,752.4M49.1,744.6L64.7,760.2M49.1,760.2L56.9,752.4M49.1,760.2L56.9,768M49.1,760.2L64.7,775.8M56.9,518.9L72.5,534.4M56.9,534.4L72.5,550M56.9,550L72.5,565.6M56.9,565.6L72.5,581.1M56.9,581.1L72.5,596.7M56.9,596.7L72.5,612.3M56.9,612.3L72.5,627.8M56.9,627.8L72.5,643.4M56.9,643.4L72.5,659M56.9,659L72.5,674.6M56.9,674.6L72.5,690.1M56.9,690.1L72.5,705.7M56.9,705.7L72.5,721.3M56.9,721.3L72.5,736.8M56.9,736.8L72.5,752.4M56.9,752.4L72.5,768M64.7,542.2L72.5,534.4M64.7,542.2L72.5,550M64.7,542.2L80.2,526.6M64.7,557.8L72.5,550M64.7,557.8L72.5,565.6M64.7,557.8L80.2,542.2M64.7,573.3L72.5,565.6M64.7,573.3L72.5,581.1M64.7,573.3L80.2,557.8M64.7,588.9L72.5,581.1M64.7,588.9L72.5,596.7M64.7,588.9L80.2,573.3M64.7,604.5L72.5,596.7M64.7,604.5L72.5,612.3M64.7,604.5L80.2,588.9M64.7,620.1L72.5,612.3M64.7,620.1L72.5,627.8M64.7,620.1L80.2,604.5M64.7,635.6L72.5,627.8M64.7,635.6L72.5,643.4M64.7,635.6L80.2,620.1M64.7,651.2L72.5,643.4M64.7,651.2L72.5,659M64.7,651.2L80.2,635.6M64.7,666.8L72.5,659M64.7,666.8L72.5,674.6M64.7,666.8L80.2,651.2M64.7,682.3L72.5,674.6M64.7,682.3L72.5,690.1M64.7,682.3L80.2,666.8M64.7,697.9L72.5,690.1M64.7,697.9L72.5,705.7M64.7,697.9L80.2,682.3M64.7,713.5L72.5,705.7M64.7,713.5L72.5,721.3M64.7,713.5L80.2,697.9M64.7,729.1L72.5,721.3M64.7,729.1L72.5,736.8M64.7,729.1L80.2,713.5M64.7,744.6L72.5,736.8M64.7,744.6L72.5,752.4M64.7,744.6L80.2,729.1M64.7,760.2L72.5,752.4M64.7,760.2L72.5,768M64.7,760.2L80.2,744.6M64.7,775.8L72.5,768M64.7,775.8L72.5,783.5M64.7,775.8L80.2,760.2M72.5,550L88,534.4M72.5,565.6L88,550M72.5,581.1L88,565.6M72.5,596.7L88,581.1M72.5,612.3L88,596.7M72.5,627.8L88,612.3M72.5,643.4L88,627.8M72.5,659L88,643.4M72.5,674.6L88,659M72.5,690.1L88,674.6M72.5,705.7L88,690.1M72.5,721.3L88,705.7M72.5,736.8L88,721.3M72.5,752.4L88,736.8M72.5,768L88,752.4M72.5,783.5L88,768M80.2,526.6L88,518.9M80.2,526.6L88,534.4M80.2,526.6L95.8,542.2M80.2,542.2L88,534.4M80.2,542.2L88,550M80.2,542.2L95.8,557.8M80.2,557.8L88,550M80.2,557.8L88,565.6M80.2,557.8L95.8,573.3M80.2,573.3L88,565.6M80.2,573.3L88,581.1M80.2,573.3L95.8,588.9M80.2,588.9L88,581.1M80.2,588.9L88,596.7M80.2,588.9L95.8,604.5M80.2,604.5L88,596.7M80.2,604.5L88,612.3M80.2,604.5L95.8,620.1M80.2,620.1L88,612.3M80.2,620.1L88,627.8M80.2,620.1L95.8,635.6M80.2,635.6L88,627.8M80.2,635.6L88,643.4M80.2,635.6L95.8,651.2M80.2,651.2L88,643.4M80.2,651.2L88,659M80.2,651.2L95.8,666.8M80.2,666.8L88,659M80.2,666.8L88,674.6M80.2,666.8L95.8,682.3M80.2,682.3L88,674.6M80.2,682.3L88,690.1M80.2,682.3L95.8,697.9M80.2,697.9L88,690.1M80.2,697.9L88,705.7M80.2,697.9L95.8,713.5M80.2,713.5L88,705.7M80.2,713.5L88,721.3M80.2,713.5L95.8,729.1M80.2,729.1L88,721.3M80.2,729.1L88,736.8M80.2,729.1L95.8,744.6M80.2,744.6L88,736.8M80.2,744.6L88,752.4M80.2,744.6L95.8,760.2M80.2,760.2L88,752.4M80.2,760.2L88,768M80.2,760.2L95.8,775.8M88,518.9L103.6,534.4M88,534.4L103.6,550M88,550L103.6,565.6M88,565.6L103.6,581.1M88,581.1L103.6,596.7M88,596.7L103.6,612.3M88,612.3L103.6,627.8M88,627.8L103.6,643.4M88,643.4L103.6,659M88,659L103.6,674.6M88,674.6L103.6,690.1M88,690.1L103.6,705.7M88,705.7L103.6,721.3M88,721.3L103.6,736.8M88,736.8L103.6,752.4M88,752.4L103.6,768M95.8,542.2L103.6,534.4M95.8,542.2L103.6,550M95.8,542.2L111.4,526.6M95.8,557.8L103.6,550M95.8,557.8L103.6,565.6M95.8,557.8L111.4,542.2M95.8,573.3L103.6,565.6M95.8,573.3L103.6,581.1M95.8,573.3L111.4,557.8M95.8,588.9L103.6,581.1M95.8,588.9L103.6,596.7M95.8,588.9L111.4,573.3M95.8,604.5L103.6,596.7M95.8,604.5L103.6,612.3M95.8,604.5L111.4,588.9M95.8,620.1L103.6,612.3M95.8,620.1L103.6,627.8M95.8,620.1L111.4,604.5M95.8,635.6L103.6,627.8M95.8,635.6L103.6,643.4M95.8,635.6L111.4,620.1M95.8,651.2L103.6,643.4M95.8,651.2L103.6,659M95.8,651.2L111.4,635.6M95.8,666.8L103.6,659M95.8,666.8L103.6,674.6M95.8,666.8L111.4,651.2M95.8,682.3L103.6,674.6M95.8,682.3L103.6,690.1M95.8,682.3L111.4,666.8M95.8,697.9L103.6,690.1M95.8,697.9L103.6,705.7M95.8,697.9L111.4,682.3M95.8,713.5L103.6,705.7M95.8,713.5L103.6,721.3M95.8,713.5L111.4,697.9M95.8,729.1L103.6,721.3M95.8,729.1L103.6,736.8M95.8,729.1L111.4,713.5M95.8,744.6L103.6,736.8M95.8,744.6L103.6,752.4M95.8,744.6L111.4,729.1M95.8,760.2L103.6,752.4M95.8,760.2L103.6,768M95.8,760.2L111.4,744.6M95.8,775.8L103.6,768M95.8,775.8L103.6,783.5M95.8,775.8L111.4,760.2M103.6,550L119.2,534.4M103.6,565.6L119.2,550M103.6,581.1L119.2,565.6M103.6,596.7L119.2,581.1M103.6,612.3L119.2,596.7M103.6,627.8L119.2,612.3M103.6,643.4L119.2,627.8M103.6,659L119.2,643.4M103.6,674.6L119.2,659M103.6,690.1L119.2,674.6M103.6,705.7L119.2,690.1M103.6,721.3L119.2,705.7M103.6,736.8L119.2,721.3M103.6,752.4L119.2,736.8M103.6,768L119.2,752.4M103.6,783.5L119.2,768M111.4,526.6L119.2,518.9M111.4,526.6L119.2,534.4M111.4,526.6L127,542.2M111.4,542.2L119.2,534.4M111.4,542.2L119.2,550M111.4,542.2L127,557.8M111.4,557.8L119.2,550M111.4,557.8L119.2,565.6M111.4,557.8L127,573.3M111.4,573.3L119.2,565.6M111.4,573.3L119.2,581.1M111.4,573.3L127,588.9M111.4,588.9L119.2,581.1M111.4,588.9L119.2,596.7M111.4,588.9L127,604.5M111.4,604.5L119.2,596.7M111.4,604.5L119.2,612.3M111.4,604.5L127,620.1M111.4,620.1L119.2,612.3M111.4,620.1L119.2,627.8M111.4,620.1L127,635.6M111.4,635.6L119.2,627.8M111.4,635.6L119.2,643.4M111.4,635.6L127,651.2M111.4,651.2L119.2,643.4M111.4,651.2L119.2,659M111.4,651.2L127,666.8M111.4,666.8L119.2,659M111.4,666.8L119.2,674.6M111.4,666.8L127,682.3M111.4,682.3L119.2,674.6M111.4,682.3L119.2,690.1M111.4,682.3L127,697.9M111.4,697.9L119.2,690.1M111.4,697.9L119.2,705.7M111.4,697.9L127,713.5M111.4,713.5L119.2,705.7M111.4,713.5L119.2,721.3M111.4,713.5L127,729.1M111.4,729.1L119.2,721.3M111.4,729.1L119.2,736.8M111.4,729.1L127,744.6M111.4,744.6L119.2,736.8M111.4,744.6L119.2,752.4M111.4,744.6L127,760.2M111.4,760.2L119.2,752.4M111.4,760.2L119.2,768M111.4,760.2L127,775.8M119.2,518.9L134.7,534.4M119.2,534.4L134.7,550M119.2,550L134.7,565.6M119.2,565.6L134.7,581.1M119.2,581.1L134.7,596.7M119.2,596.7L134.7,612.3M119.2,612.3L134.7,627.8M119.2,627.8L134.7,643.4M119.2,643.4L134.7,659M119.2,659L134.7,674.6M119.2,674.6L134.7,690.1M119.2,690.1L134.7,705.7M119.2,705.7L134.7,721.3M119.2,721.3L134.7,736.8M119.2,736.8L134.7,752.4M119.2,752.4L134.7,768M127,542.2L134.7,534.4M127,542.2L134.7,550M127,542.2L142.5,526.6M127,557.8L134.7,550M127,557.8L134.7,565.6M127,557.8L142.5,542.2M127,573.3L134.7,565.6M127,573.3L134.7,581.1M127,573.3L142.5,557.8M127,588.9L134.7,581.1M127,588.9L134.7,596.7M127,588.9L142.5,573.3M127,604.5L134.7,596.7M127,604.5L134.7,612.3M127,604.5L142.5,588.9M127,620.1L134.7,612.3M127,620.1L134.7,627.8M127,620.1L142.5,604.5M127,635.6L134.7,627.8M127,635.6L134.7,643.4M127,635.6L142.5,620.1M127,651.2L134.7,643.4M127,651.2L134.7,659M127,651.2L142.5,635.6M127,666.8L134.7,659M127,666.8L134.7,674.6M127,666.8L142.5,651.2M127,682.3L134.7,674.6M127,682.3L134.7,690.1M127,682.3L142.5,666.8M127,697.9L134.7,690.1M127,697.9L134.7,705.7M127,697.9L142.5,682.3M127,713.5L134.7,705.7M127,713.5L134.7,721.3M127,713.5L142.5,697.9M127,729.1L134.7,721.3M127,729.1L134.7,736.8M127,729.1L142.5,713.5M127,744.6L134.7,736.8M127,744.6L134.7,752.4M127,744.6L142.5,729.1M127,760.2L134.7,752.4M127,760.2L134.7,768M127,760.2L142.5,744.6M127,775.8L134.7,768M127,775.8L134.7,783.5M127,775.8L142.5,760.2M134.7,550L150.3,534.4M134.7,565.6L150.3,550M134.7,581.1L150.3,565.6M134.7,596.7L150.3,581.1M134.7,612.3L150.3,596.7M134.7,627.8L150.3,612.3M134.7,643.4L150.3,627.8M134.7,659L150.3,643.4M134.7,674.6L150.3,659M134.7,690.1L150.3,674.6M134.7,705.7L150.3,690.1M134.7,721.3L150.3,705.7M134.7,736.8L150.3,721.3M134.7,752.4L150.3,736.8M134.7,768L150.3,752.4M134.7,783.5L150.3,768M142.5,526.6L150.3,518.9M142.5,526.6L150.3,534.4M142.5,526.6L158.1,542.2M142.5,542.2L150.3,534.4M142.5,542.2L150.3,550M142.5,542.2L158.1,557.8M142.5,557.8L150.3,550M142.5,557.8L150.3,565.6M142.5,557.8L158.1,573.3M142.5,573.3L150.3,565.6M142.5,573.3L150.3,581.1M142.5,573.3L158.1,588.9M142.5,588.9L150.3,581.1M142.5,588.9L150.3,596.7M142.5,588.9L158.1,604.5M142.5,604.5L150.3,596.7M142.5,604.5L150.3,612.3M142.5,604.5L158.1,620.1M142.5,620.1L150.3,612.3M142.5,620.1L150.3,627.8M142.5,620.1L158.1,635.6M142.5,635.6L150.3,627.8M142.5,635.6L150.3,643.4M142.5,635.6L158.1,651.2M142.5,651.2L150.3,643.4M142.5,651.2L150.3,659M142.5,651.2L158.1,666.8M142.5,666.8L150.3,659M142.5,666.8L150.3,674.6M142.5,666.8L158.1,682.3M142.5,682.3L150.3,674.6M142.5,682.3L150.3,690.1M142.5,682.3L158.1,697.9M142.5,697.9L150.3,690.1M142.5,697.9L150.3,705.7M142.5,697.9L158.1,713.5M142.5,713.5L150.3,705.7M142.5,713.5L150.3,721.3M142.5,713.5L158.1,729.1M142.5,729.1L150.3,721.3M142.5,729.1L150.3,736.8M142.5,729.1L158.1,744.6M142.5,744.6L150.3,736.8M142.5,744.6L150.3,752.4M142.5,744.6L158.1,760.2M142.5,760.2L150.3,752.4M142.5,760.2L150.3,768M142.5,760.2L158.1,775.8M150.3,518.9L165.9,534.4M150.3,534.4L165.9,550M150.3,550L165.9,565.6M150.3,565.6L165.9,581.1M150.3,581.1L165.9,596.7M150.3,596.7L165.9,612.3M150.3,612.3L165.9,627.8M150.3,627.8L165.9,643.4M150.3,643.4L165.9,659M150.3,659L165.9,674.6M150.3,674.6L165.9,690.1M150.3,690.1L165.9,705.7M150.3,705.7L165.9,721.3M150.3,721.3L165.9,736.8M150.3,736.8L165.9,752.4M150.3,752.4L165.9,768M158.1,542.2L165.9,534.4M158.1,542.2L165.9,550M158.1,542.2L173.7,526.6M158.1,557.8L165.9,550M158.1,557.8L165.9,565.6M158.1,557.8L173.7,542.2M158.1,573.3L165.9,565.6M158.1,573.3L165.9,581.1M158.1,573.3L173.7,557.8M158.1,588.9L165.9,581.1M158.1,588.9L165.9,596.7M158.1,588.9L173.7,573.3M158.1,604.5L165.9,596.7M158.1,604.5L165.9,612.3M158.1,604.5L173.7,588.9M158.1,620.1L165.9,612.3M158.1,620.1L165.9,627.8M158.1,620.1L173.7,604.5M158.1,635.6L165.9,627.8M158.1,635.6L165.9,643.4M158.1,635.6L173.7,620.1M158.1,651.2L165.9,643.4M158.1,651.2L165.9,659M158.1,651.2L173.7,635.6M158.1,666.8L165.9,659M158.1,666.8L165.9,674.6M158.1,666.8L173.7,651.2M158.1,682.3L165.9,674.6M158.1,682.3L165.9,690.1M158.1,682.3L173.7,666.8M158.1,697.9L165.9,690.1M158.1,697.9L165.9,705.7M158.1,697.9L173.7,682.3M158.1,713.5L165.9,705.7M158.1,713.5L165.9,721.3M158.1,713.5L173.7,697.9M158.1,729.1L165.9,721.3M158.1,729.1L165.9,736.8M158.1,729.1L173.7,713.5M158.1,744.6L165.9,736.8M158.1,744.6L165.9,752.4M158.1,744.6L173.7,729.1M158.1,760.2L165.9,752.4M158.1,760.2L165.9,768M158.1,760.2L173.7,744.6M158.1,775.8L165.9,768M158.1,775.8L165.9,783.5M158.1,775.8L173.7,760.2M165.9,550L181.5,534.4M165.9,565.6L181.5,550M165.9,581.1L181.5,565.6M165.9,596.7L181.5,581.1M165.9,612.3L181.5,596.7M165.9,627.8L181.5,612.3M165.9,643.4L181.5,627.8M165.9,659L181.5,643.4M165.9,674.6L181.5,659M165.9,690.1L181.5,674.6M165.9,705.7L181.5,690.1M165.9,721.3L181.5,705.7M165.9,736.8L181.5,721.3M165.9,752.4L181.5,736.8M165.9,768L181.5,752.4M165.9,783.5L181.5,768M173.7,526.6L181.5,518.9M173.7,526.6L181.5,534.4M173.7,526.6L189.2,542.2M173.7,542.2L181.5,534.4M173.7,542.2L181.5,550M173.7,542.2L189.2,557.8M173.7,557.8L181.5,550M173.7,557.8L181.5,565.6M173.7,557.8L189.2,573.3M173.7,573.3L181.5,565.6M173.7,573.3L181.5,581.1M173.7,573.3L189.2,588.9M173.7,588.9L181.5,581.1M173.7,588.9L181.5,596.7M173.7,588.9L189.2,604.5M173.7,604.5L181.5,596.7M173.7,604.5L181.5,612.3M173.7,604.5L189.2,620.1M173.7,620.1L181.5,612.3M173.7,620.1L181.5,627.8M173.7,620.1L189.2,635.6M173.7,635.6L181.5,627.8M173.7,635.6L181.5,643.4M173.7,635.6L189.2,651.2M173.7,651.2L181.5,643.4M173.7,651.2L181.5,659M173.7,651.2L189.2,666.8M173.7,666.8L181.5,659M173.7,666.8L181.5,674.6M173.7,666.8L189.2,682.3M173.7,682.3L181.5,674.6M173.7,682.3L181.5,690.1M173.7,682.3L189.2,697.9M173.7,697.9L181.5,690.1M173.7,697.9L181.5,705.7M173.7,697.9L189.2,713.5M173.7,713.5L181.5,705.7M173.7,713.5L181.5,721.3M173.7,713.5L189.2,729.1M173.7,729.1L181.5,721.3M173.7,729.1L181.5,736.8M173.7,729.1L189.2,744.6M173.7,744.6L181.5,736.8M173.7,744.6L181.5,752.4M173.7,744.6L189.2,760.2M173.7,760.2L181.5,752.4M173.7,760.2L181.5,768M173.7,760.2L189.2,775.8M181.5,518.9L197,534.4M181.5,534.4L197,550M181.5,550L197,565.6M181.5,565.6L197,581.1M181.5,581.1L197,596.7M181.5,596.7L197,612.3M181.5,612.3L197,627.8M181.5,627.8L197,643.4M181.5,643.4L197,659M181.5,659L197,674.6M181.5,674.6L197,690.1M181.5,690.1L197,705.7M181.5,705.7L197,721.3M181.5,721.3L197,736.8M181.5,736.8L197,752.4M181.5,752.4L197,768M189.2,542.2L197,534.4M189.2,542.2L197,550M189.2,542.2L204.8,526.6M189.2,557.8L197,550M189.2,557.8L197,565.6M189.2,557.8L204.8,542.2M189.2,573.3L197,565.6M189.2,573.3L197,581.1M189.2,573.3L204.8,557.8M189.2,588.9L197,581.1M189.2,588.9L197,596.7M189.2,588.9L204.8,573.3M189.2,604.5L197,596.7M189.2,604.5L197,612.3M189.2,604.5L204.8,588.9M189.2,620.1L197,612.3M189.2,620.1L197,627.8M189.2,620.1L204.8,604.5M189.2,635.6L197,627.8M189.2,635.6L197,643.4M189.2,635.6L204.8,620.1M189.2,651.2L197,643.4M189.2,651.2L197,659M189.2,651.2L204.8,635.6M189.2,666.8L197,659M189.2,666.8L197,674.6M189.2,666.8L204.8,651.2M189.2,682.3L197,674.6M189.2,682.3L197,690.1M189.2,682.3L204.8,666.8M189.2,697.9L197,690.1M189.2,697.9L197,705.7M189.2,697.9L204.8,682.3M189.2,713.5L197,705.7M189.2,713.5L197,721.3M189.2,713.5L204.8,697.9M189.2,729.1L197,721.3M189.2,729.1L197,736.8M189.2,729.1L204.8,713.5M189.2,744.6L197,736.8M189.2,744.6L197,752.4M189.2,744.6L204.8,729.1M189.2,760.2L197,752.4M189.2,760.2L197,768M189.2,760.2L204.8,744.6M189.2,775.8L197,768M189.2,775.8L197,783.5M189.2,775.8L204.8,760.2M197,550L212.6,534.4M197,565.6L212.6,550M197,581.1L212.6,565.6M197,596.7L212.6,581.1M197,612.3L212.6,596.7M197,627.8L212.6,612.3M197,643.4L212.6,627.8M197,659L212.6,643.4M197,674.6L212.6,659M197,690.1L212.6,674.6M197,705.7L212.6,690.1M197,721.3L212.6,705.7M197,736.8L212.6,721.3M197,752.4L212.6,736.8M197,768L212.6,752.4M197,783.5L212.6,768M204.8,526.6L212.6,518.9M204.8,526.6L212.6,534.4M204.8,526.6L220.4,542.2M204.8,542.2L212.6,534.4M204.8,542.2L212.6,550M204.8,542.2L220.4,557.8M204.8,557.8L212.6,550M204.8,557.8L212.6,565.6M204.8,557.8L220.4,573.3M204.8,573.3L212.6,565.6M204.8,573.3L212.6,581.1M204.8,573.3L220.4,588.9M204.8,588.9L212.6,581.1M204.8,588.9L212.6,596.7M204.8,588.9L220.4,604.5M204.8,604.5L212.6,596.7M204.8,604.5L212.6,612.3M204.8,604.5L220.4,620.1M204.8,620.1L212.6,612.3M204.8,620.1L212.6,627.8M204.8,620.1L220.4,635.6M204.8,635.6L212.6,627.8M204.8,635.6L212.6,643.4M204.8,635.6L220.4,651.2M204.8,651.2L212.6,643.4M204.8,651.2L212.6,659M204.8,651.2L220.4,666.8M204.8,666.8L212.6,659M204.8,666.8L212.6,674.6M204.8,666.8L220.4,682.3M204.8,682.3L212.6,674.6M204.8,682.3L212.6,690.1M204.8,682.3L220.4,697.9M204.8,697.9L212.6,690.1M204.8,697.9L212.6,705.7M204.8,697.9L220.4,713.5M204.8,713.5L212.6,705.7M204.8,713.5L212.6,721.3M204.8,713.5L220.4,729.1M204.8,729.1L212.6,721.3M204.8,729.1L212.6,736.8M204.8,729.1L220.4,744.6M204.8,744.6L212.6,736.8M204.8,744.6L212.6,752.4M204.8,744.6L220.4,760.2M204.8,760.2L212.6,752.4M204.8,760.2L212.6,768M204.8,760.2L220.4,775.8M212.6,518.9L228.2,534.4M212.6,534.4L228.2,550M212.6,550L228.2,565.6M212.6,565.6L228.2,581.1M212.6,581.1L228.2,596.7M212.6,596.7L228.2,612.3M212.6,612.3L228.2,627.8M212.6,627.8L228.2,643.4M212.6,643.4L228.2,659M212.6,659L228.2,674.6M212.6,674.6L228.2,690.1M212.6,690.1L228.2,705.7M212.6,705.7L228.2,721.3M212.6,721.3L228.2,736.8M212.6,736.8L228.2,752.4M212.6,752.4L228.2,768M220.4,542.2L228.2,534.4M220.4,542.2L228.2,550M220.4,542.2L236,526.6M220.4,557.8L228.2,550M220.4,557.8L228.2,565.6M220.4,557.8L236,542.2M220.4,573.3L228.2,565.6M220.4,573.3L228.2,581.1M220.4,573.3L236,557.8M220.4,588.9L228.2,581.1M220.4,588.9L228.2,596.7M220.4,588.9L236,573.3M220.4,604.5L228.2,596.7M220.4,604.5L228.2,612.3M220.4,604.5L236,588.9M220.4,620.1L228.2,612.3M220.4,620.1L228.2,627.8M220.4,620.1L236,604.5M220.4,635.6L228.2,627.8M220.4,635.6L228.2,643.4M220.4,635.6L236,620.1M220.4,651.2L228.2,643.4M220.4,651.2L228.2,659M220.4,651.2L236,635.6M220.4,666.8L228.2,659M220.4,666.8L228.2,674.6M220.4,666.8L236,651.2M220.4,682.3L228.2,674.6M220.4,682.3L228.2,690.1M220.4,682.3L236,666.8M220.4,697.9L228.2,690.1M220.4,697.9L228.2,705.7M220.4,697.9L236,682.3M220.4,713.5L228.2,705.7M220.4,713.5L228.2,721.3M220.4,713.5L236,697.9M220.4,729.1L228.2,721.3M220.4,729.1L228.2,736.8M220.4,729.1L236,713.5M220.4,744.6L228.2,736.8M220.4,744.6L228.2,752.4M220.4,744.6L236,729.1M220.4,760.2L228.2,752.4M220.4,760.2L228.2,768M220.4,760.2L236,744.6M220.4,775.8L228.2,768M220.4,775.8L228.2,783.5M220.4,775.8L236,760.2M228.2,550L243.7,534.4M228.2,565.6L243.7,550M228.2,581.1L243.7,565.6M228.2,596.7L243.7,581.1M228.2,612.3L243.7,596.7M228.2,627.8L243.7,612.3M228.2,643.4L243.7,627.8M228.2,659L243.7,643.4M228.2,674.6L243.7,659M228.2,690.1L243.7,674.6M228.2,705.7L243.7,690.1M228.2,721.3L243.7,705.7M228.2,736.8L243.7,721.3M228.2,752.4L243.7,736.8M228.2,768L243.7,752.4M228.2,783.5L243.7,768M236,526.6L243.7,518.9M236,526.6L243.7,534.4M236,526.6L251.5,542.2M236,542.2L243.7,534.4M236,542.2L243.7,550M236,542.2L251.5,557.8M236,557.8L243.7,550M236,557.8L243.7,565.6M236,557.8L251.5,573.3M236,573.3L243.7,565.6M236,573.3L243.7,581.1M236,573.3L251.5,588.9M236,588.9L243.7,581.1M236,588.9L243.7,596.7M236,588.9L251.5,604.5M236,604.5L243.7,596.7M236,604.5L243.7,612.3M236,604.5L251.5,620.1M236,620.1L243.7,612.3M236,620.1L243.7,627.8M236,620.1L251.5,635.6M236,635.6L243.7,627.8M236,635.6L243.7,643.4M236,635.6L251.5,651.2M236,651.2L243.7,643.4M236,651.2L243.7,659M236,651.2L251.5,666.8M236,666.8L243.7,659M236,666.8L243.7,674.6M236,666.8L251.5,682.3M236,682.3L243.7,674.6M236,682.3L243.7,690.1M236,682.3L251.5,697.9M236,697.9L243.7,690.1M236,697.9L243.7,705.7M236,697.9L251.5,713.5M236,713.5L243.7,705.7M236,713.5L243.7,721.3M236,713.5L251.5,729.1M236,729.1L243.7,721.3M236,729.1L243.7,736.8M236,729.1L251.5,744.6M236,744.6L243.7,736.8M236,744.6L243.7,752.4M236,744.6L251.5,760.2M236,760.2L243.7,752.4M236,760.2L243.7,768M236,760.2L251.5,775.8M243.7,518.9L259.3,534.4M243.7,534.4L259.3,550M243.7,550L259.3,565.6M243.7,565.6L259.3,581.1M243.7,581.1L259.3,596.7M243.7,596.7L259.3,612.3M243.7,612.3L259.3,627.8M243.7,627.8L259.3,643.4M243.7,643.4L259.3,659M243.7,659L259.3,674.6M243.7,674.6L259.3,690.1M243.7,690.1L259.3,705.7M243.7,705.7L259.3,721.3M243.7,721.3L259.3,736.8M243.7,736.8L259.3,752.4M243.7,752.4L259.3,768M251.5,542.2L259.3,534.4M251.5,542.2L259.3,550M251.5,542.2L267.1,526.6M251.5,557.8L259.3,550M251.5,557.8L259.3,565.6M251.5,557.8L267.1,542.2M251.5,573.3L259.3,565.6M251.5,573.3L259.3,581.1M251.5,573.3L267.1,557.8M251.5,588.9L259.3,581.1M251.5,588.9L259.3,596.7M251.5,588.9L267.1,573.3M251.5,604.5L259.3,596.7M251.5,604.5L259.3,612.3M251.5,604.5L267.1,588.9M251.5,620.1L259.3,612.3M251.5,620.1L259.3,627.8M251.5,620.1L267.1,604.5M251.5,635.6L259.3,627.8M251.5,635.6L259.3,643.4M251.5,635.6L267.1,620.1M251.5,651.2L259.3,643.4M251.5,651.2L259.3,659M251.5,651.2L267.1,635.6M251.5,666.8L259.3,659M251.5,666.8L259.3,674.6M251.5,666.8L267.1,651.2M251.5,682.3L259.3,674.6M251.5,682.3L259.3,690.1M251.5,682.3L267.1,666.8M251.5,697.9L259.3,690.1M251.5,697.9L259.3,705.7M251.5,697.9L267.1,682.3M251.5,713.5L259.3,705.7M251.5,713.5L259.3,721.3M251.5,713.5L267.1,697.9M251.5,729.1L259.3,721.3M251.5,729.1L259.3,736.8M251.5,729.1L267.1,713.5M251.5,744.6L259.3,736.8M251.5,744.6L259.3,752.4M251.5,744.6L267.1,729.1M251.5,760.2L259.3,752.4M251.5,760.2L259.3,768M251.5,760.2L267.1,744.6M251.5,775.8L259.3,768M251.5,775.8L259.3,783.5M251.5,775.8L267.1,760.2M259.3,550L274.9,534.4M259.3,565.6L274.9,550M259.3,581.1L274.9,565.6M259.3,596.7L274.9,581.1M259.3,612.3L274.9,596.7M259.3,627.8L274.9,612.3M259.3,643.4L274.9,627.8M259.3,659L274.9,643.4M259.3,674.6L274.9,659M259.3,690.1L274.9,674.6M259.3,705.7L274.9,690.1M259.3,721.3L274.9,705.7M259.3,736.8L274.9,721.3M259.3,752.4L274.9,736.8M259.3,768L274.9,752.4M259.3,783.5L274.9,768M267.1,526.6L274.9,534.4M267.1,542.2L274.9,550M267.1,557.8L274.9,565.6M267.1,573.3L274.9,581.1M267.1,588.9L274.9,596.7M267.1,604.5L274.9,612.3M267.1,620.1L274.9,627.8M267.1,635.6L274.9,643.4M267.1,651.2L274.9,659M267.1,666.8L274.9,674.6M267.1,682.3L274.9,690.1M267.1,697.9L274.9,705.7M267.1,713.5L274.9,721.3M267.1,729.1L274.9,736.8M267.1,744.6L274.9,752.4M267.1,760.2L274.9,768" stroke="#7a7a7a" stroke-width="0.75" fill="none"/>
<circle cx="147.6" cy="651.2" r="84.8" fill="none" stroke="#9a9a9a" stroke-width="1.3"/>
<circle cx="147.6" cy="651.2" r="118.6" fill="none" stroke="#303030" stroke-width="9.5"/>
<circle cx="147.6" cy="651.2" r="98.3" fill="none" stroke="#2a2a2a" stroke-width="7.6"/>
<circle cx="147.6" cy="650.7" r="45.7" fill="#fff" stroke="#8a8a8a" stroke-width="1.2"/>
<circle cx="128.1" cy="660.3" r="19.3" fill="#9b9b9b" stroke="#3a3a3a" stroke-width="1.6"/>
<circle cx="128" cy="660.4" r="12.2" fill="none" stroke="#3a3a3a" stroke-width="1.5"/>
<circle cx="168.2" cy="646.9" r="19.3" fill="#9b9b9b" stroke="#3a3a3a" stroke-width="1.6"/>
<circle cx="167.8" cy="647" r="12.4" fill="none" stroke="#3a3a3a" stroke-width="1.5"/>
<path d="M367.75,800 L800,637.8 L800,800 Z" fill="#0086cc"/>
<circle cx="214.7" cy="201.9" r="14.85" fill="#dc3a3b"/><circle cx="459" cy="201.9" r="14.85" fill="#dc3a3b"/><circle cx="44.9" cy="456.9" r="14.85" fill="#dc3a3b"/>
</svg>
<div class="t" style="left:108.5px;top:66.1px;font-size:44px;letter-spacing:7.6px;color:#333;font-weight:bold;-webkit-text-stroke:1.1px #333">高強度</div>
<div class="t" style="left:248px;top:67.6px;font-size:44px;letter-spacing:0px;color:#333;font-weight:bold;-webkit-text-stroke:1.1px #333">・</div>
<div class="t" style="left:286.1px;top:65.1px;font-size:44px;letter-spacing:6.86px;color:#333;font-weight:bold;-webkit-text-stroke:1.1px #333">防水性の保護構造</div>
<div class="t" style="left:30.5px;top:225px;font-size:25.5px;letter-spacing:0.24px;color:#dc3a3b;font-weight:bold;-webkit-text-stroke:0.15px #dc3a3b">光ファイバ</div>
<div class="t" style="left:237.4px;top:187.75px;font-size:25.5px;letter-spacing:-0.33px;color:#dc3a3b;font-weight:bold;-webkit-text-stroke:0.15px #dc3a3b">アーマード</div>
<div class="t" style="left:238.4px;top:225.75px;font-size:25.5px;letter-spacing:0.44px;color:#dc3a3b;font-weight:bold;-webkit-text-stroke:0.15px #dc3a3b">メタルパイプ</div>
<div class="t" style="left:482.5px;top:188px;font-size:25.5px;letter-spacing:0.87px;color:#dc3a3b;font-weight:bold;-webkit-text-stroke:0.15px #dc3a3b">ステンレス</div>
<div class="t" style="left:482.5px;top:223.1px;font-size:25.5px;letter-spacing:1.67px;color:#dc3a3b;font-weight:bold;-webkit-text-stroke:0.15px #dc3a3b">スティール網組</div>
<div class="t" style="left:66.4px;top:442.6px;font-size:31px;letter-spacing:2.6px;color:#dc3a3b;font-weight:normal;-webkit-text-stroke:1px #dc3a3b">PBT</div>
<div class="t" style="left:134px;top:444px;font-size:25.5px;letter-spacing:-0.4px;color:#dc3a3b;font-weight:bold;-webkit-text-stroke:0.15px #dc3a3b">チューブ</div>
<div class="t" style="left:316.5px;top:542.6px;font-size:25.5px;letter-spacing:2.33px;color:#dc3a3b;font-weight:bold;-webkit-text-stroke:0.15px #dc3a3b">ケブラー</div>
<div class="t" style="left:615.65px;top:542px;font-size:31px;letter-spacing:1.96px;color:#dc3a3b;font-weight:normal;-webkit-text-stroke:1px #dc3a3b">PVC</div>
<div class="t" style="left:685.6px;top:542.7px;font-size:25.5px;letter-spacing:0px;color:#dc3a3b;font-weight:bold;-webkit-text-stroke:0.15px #dc3a3b">シース</div>
<div class="t" style="left:584.25px;top:738.25px;font-size:35.5px;letter-spacing:1.58px;color:#fff;font-weight:normal;-webkit-text-stroke:1.6px #fff">防水タイプ</div>
<div class="num" style="left:199.85px;top:187.05px;clip-path:polygon(0 0,30px 0,30px 20.95px,17.3px 20.95px,17.3px 30px,13.1px 30px,13.1px 20.95px,0 20.95px)">1</div>
<div class="num" style="left:444.15px;top:187.05px">2</div>
<div class="num" style="left:30.05px;top:442.05px">3</div>
</body></html>
